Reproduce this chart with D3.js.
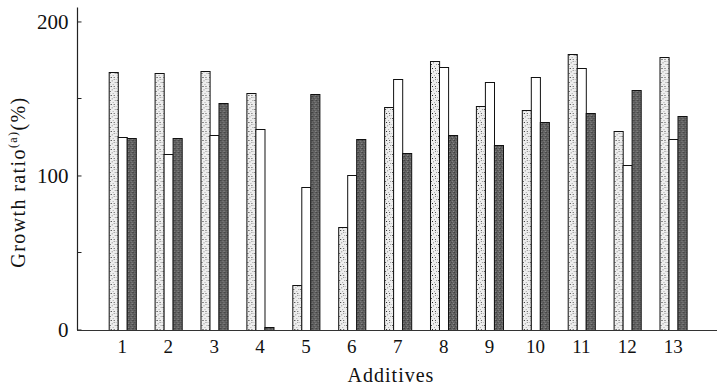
<!DOCTYPE html>
<html>
<head>
<meta charset="utf-8">
<script src="https://cdn.jsdelivr.net/npm/d3@7"></script>
<style>
  html, body { margin: 0; padding: 0; background: #fff; }
  svg { display: block; }
  svg text { font-family: "Liberation Serif", "Tinos", "Times New Roman", "DejaVu Serif", serif; fill: #111; }
</style>
</head>
<body>
<svg id="chart" width="717" height="387"></svg>
<script>
// Additive numbers along the x axis
const additives = ["1","2","3","4","5","6","7","8","9","10","11","12","13"];
// Growth ratio (%) for the three treatments of each additive
const stippled = [167.2, 166.3, 167.6, 153.6, 28.7, 66.8, 144.7, 174.4, 145.1, 142.7, 178.8, 128.6, 177.1];
const plain    = [124.8, 113.8, 126.1, 130.0, 92.7, 100.5, 162.5, 170.7, 160.7, 164.1, 170.1, 106.7, 123.4];
const shaded   = [124.1, 124.4, 146.9, 1.8, 152.9, 123.7, 114.8, 126.5, 119.8, 134.6, 140.3, 155.6, 138.8];
const seriesKeys = ["stippled", "plain", "shaded"];
const yTicks = [0, 100, 200];
const yMinorTicks = [50, 150];

const serif = "'Liberation Serif', 'Tinos', 'Times New Roman', 'DejaVu Serif', serif";
const svg = d3.select("#chart");

// Fill patterns: fine stipple on white, plain white, and dark grey grain
const defs = svg.append("defs");
const pStip = defs.append("pattern").attr("id", "stip")
  .attr("patternUnits", "userSpaceOnUse").attr("width", 7).attr("height", 9);
pStip.append("rect").attr("width", 7).attr("height", 9).attr("fill", "#eeeeee");
[[1,1,"#444"],[4,3,"#aaa"],[2,5,"#222"],[5,7,"#888"],[0,7,"#bbb"],[6,1,"#999"],[3,0,"#ccc"],[5,5,"#555"],[1,3,"#ccc"],[3,8,"#aaa"]]
  .forEach(([x, y, c]) => pStip.append("rect").attr("x", x).attr("y", y).attr("width", 1).attr("height", 1).attr("fill", c));

const pDark = defs.append("pattern").attr("id", "dark")
  .attr("patternUnits", "userSpaceOnUse").attr("width", 4).attr("height", 4);
pDark.append("rect").attr("width", 4).attr("height", 4).attr("fill", "#626262");
[[0,0,"#3e3e3e"],[2,1,"#808080"],[1,2,"#4a4a4a"],[3,3,"#8c8c8c"],[3,0,"#525252"]]
  .forEach(([x, y, c]) => pDark.append("rect").attr("x", x).attr("y", y).attr("width", 1).attr("height", 1).attr("fill", c));

const fills = { stippled: "url(#stip)", plain: "#ffffff", shaded: "url(#dark)" };

const axisX = 77, baseY = 329.5;

const x = d3.scaleBand()
  .domain(additives)
  .range([90.1, 705.4])
  .paddingInner(0.405)
  .paddingOuter(0.405);

const xs = d3.scaleBand()
  .domain(seriesKeys)
  .range([0, x.bandwidth()])
  .padding(0);

const y = d3.scaleLinear()
  .domain([0, 209])
  .range([baseY, 7.6]);

const rows = additives.map((a, i) => ({
  additive: a,
  stippled: stippled[i],
  plain: plain[i],
  shaded: shaded[i]
}));

// Bars
const groups = svg.append("g").selectAll("g")
  .data(rows).join("g")
  .attr("transform", d => `translate(${x(d.additive)},0)`);

groups.selectAll("rect")
  .data(d => seriesKeys.map(k => ({ key: k, value: d[k] })))
  .join("rect")
  .attr("x", d => Math.round(xs(d.key)) + 0.5)
  .attr("y", d => Math.round(y(d.value)) + 0.5)
  .attr("width", xs.bandwidth())
  .attr("height", d => Math.max(0, Math.round(baseY) - Math.round(y(d.value))))
  .attr("fill", d => fills[d.key])
  .attr("stroke", "#111")
  .attr("stroke-width", 1);

// Y axis with inward ticks
const yAxis = d3.axisLeft(y)
  .tickValues(yTicks)
  .tickSizeInner(-4)
  .tickSizeOuter(0)
  .tickPadding(9)
  .tickFormat(d3.format("d"));

const gy = svg.append("g")
  .attr("transform", `translate(${axisX + 0.5},0)`)
  .call(yAxis)
  .attr("font-family", serif);
gy.select(".domain").remove();
gy.selectAll(".tick line").attr("stroke", "#222");
gy.selectAll(".tick text")
  .style("font-family", serif)
  .style("font-size", "21px")
  .attr("fill", "#111");

svg.append("g")
  .attr("transform", `translate(${axisX + 0.5},0)`)
  .selectAll("line")
  .data(yMinorTicks).join("line")
  .attr("x1", 0).attr("x2", 4)
  .attr("y1", d => Math.round(y(d)) + 0.5)
  .attr("y2", d => Math.round(y(d)) + 0.5)
  .attr("stroke", "#222");

// Axis lines
svg.append("line")
  .attr("x1", axisX + 0.5).attr("x2", axisX + 0.5)
  .attr("y1", y(209)).attr("y2", baseY + 0.5)
  .attr("stroke", "#222").attr("stroke-width", 1.2);
svg.append("line")
  .attr("x1", axisX).attr("x2", 717)
  .attr("y1", Math.round(baseY) + 0.5).attr("y2", Math.round(baseY) + 0.5)
  .attr("stroke", "#333").attr("stroke-width", 1.2);

// Category labels
const xAxis = d3.axisBottom(x).tickSize(0).tickPadding(10);
const gx = svg.append("g")
  .attr("transform", `translate(0,${baseY})`)
  .call(xAxis)
  .attr("font-family", serif);
gx.select(".domain").remove();
gx.selectAll(".tick text")
  .style("font-family", serif)
  .style("font-size", "19px")
  .attr("fill", "#111");

// Axis titles
svg.append("text")
  .attr("x", 391)
  .attr("y", 382)
  .attr("text-anchor", "middle")
  .style("font-family", serif)
  .style("font-size", "20px")
  .style("letter-spacing", "1px")
  .text("Additives");

const yt = svg.append("text")
  .attr("transform", "translate(25,182) rotate(-90)")
  .attr("text-anchor", "middle")
  .style("font-family", serif)
  .style("font-size", "20px")
  .style("letter-spacing", "1.4px");
yt.append("tspan").text("Growth  ratio");
yt.append("tspan").attr("dy", -8).style("font-size", "12px").text("(a)");
yt.append("tspan").attr("dy", 8).text("(%)");
</script>
</body>
</html>
